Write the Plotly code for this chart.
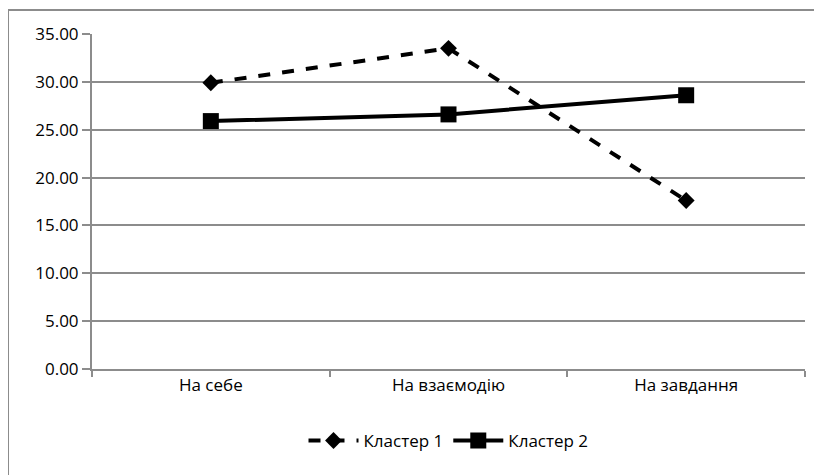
import plotly.graph_objects as go

categories = ["На себе", "На взаємодію", "На завдання"]
cluster1 = [29.9, 33.5, 17.6]
cluster2 = [25.9, 26.6, 28.6]
series_names = ["Кластер 1", "Кластер 2"]
y_ticks = [0, 5, 10, 15, 20, 25, 30, 35]
y_tick_labels = [f"{v:.2f}" for v in y_ticks]

grid = "#8c8c8c"
font_family = "Open Sans, Noto Sans, sans-serif"

fig = go.Figure()
fig.add_trace(go.Scatter(
    x=categories, y=cluster1, name=series_names[0], mode="lines+markers",
    line=dict(color="black", width=4, dash="dash"),
    marker=dict(symbol="diamond", size=13, color="black"),
))
fig.add_trace(go.Scatter(
    x=categories, y=cluster2, name=series_names[1], mode="lines+markers",
    line=dict(color="black", width=4),
    marker=dict(symbol="square", size=16, color="black"),
))

fig.update_layout(
    width=814, height=467,
    margin=dict(l=84, r=17, t=26, b=106),
    paper_bgcolor="white", plot_bgcolor="white",
    font=dict(family=font_family, size=17, color="black"),
    showlegend=True,
    legend=dict(orientation="h", x=0.5, xanchor="center", y=-0.215, yanchor="middle",
                font=dict(size=17), itemwidth=50, tracegroupgap=0),
    xaxis=dict(
        type="category", showgrid=False, showline=True, linecolor=grid, linewidth=2,
        ticks="outside", tickson="boundaries", ticklen=6, tickcolor=grid, tickwidth=2,
        range=[-0.5, 2.5],
    ),
    yaxis=dict(
        range=[0, 35], tickvals=y_ticks, ticktext=y_tick_labels,
        showgrid=True, gridcolor=grid, gridwidth=2,
        showline=True, linecolor=grid, linewidth=2,
        ticks="outside", ticklen=8, tickcolor=grid, tickwidth=2,
        zeroline=False,
    ),
    shapes=[dict(
        type="rect", xref="paper", yref="paper",
        x0=-0.1178, x1=1.05, y0=-0.35, y1=1.0716,
        line=dict(color="#8c8c8c", width=2), fillcolor="rgba(0,0,0,0)", layer="below",
    )],
)

fig.write_html("out.html")
